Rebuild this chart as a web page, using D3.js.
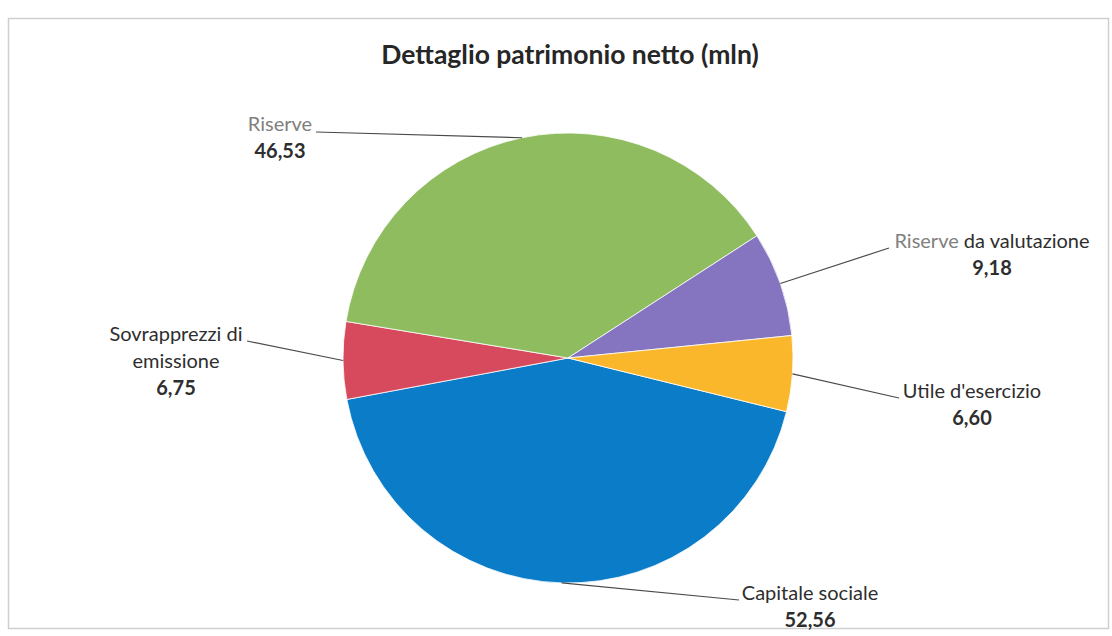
<!DOCTYPE html>
<html>
<head>
    <meta charset="utf-8">
    <title>Dettaglio patrimonio netto</title>
    <script src="https://d3js.org/d3.v7.min.js"></script>
    <style>
        html, body {
            margin: 0;
            background: #fff;
        }
        text {
            font-family: Lato, "Open Sans", sans-serif;
        }
    </style>
</head>
<body>
    <svg id="svg"></svg>
    <script>
        // data, in clockwise order as drawn
        const categories = ["Capitale sociale", "Sovrapprezzi di emissione", "Riserve", "Riserve da valutazione", "Utile d'esercizio"];
        const values = [52.56, 6.75, 46.53, 9.18, 6.60];
        const colors = ["#0b7cc7", "#d74a5e", "#8fbc5f", "#8574c0", "#fbb72b"];

        // how each label is broken into lines; grey words come first
        const labelLines = [
            [["", "Capitale sociale"]],
            [["", "Sovrapprezzi di"], ["", "emissione"]],
            [["Riserve", ""]],
            [["Riserve", " da valutazione"]],
            [["", "Utile d'esercizio"]]
        ];
        // label layout: text centre x, first baseline y, leader end point
        const labelLayout = [
            {x: 810, y: 600, lx: 739, ly: 600},
            {x: 176, y: 341, lx: 247, ly: 341},
            {x: 280, y: 131, lx: 316, ly: 132},
            {x: 992, y: 248, lx: 889, ly: 248},
            {x: 972, y: 398, lx: 899, ly: 398}
        ];

        const width = 1112, height = 636;
        const cx = 568, cy = 358, radius = 225;
        const lineH = 27;
        const fontSize = 20;

        const svg = d3.select("#svg")
        .attr("width", width)
        .attr("height", height);

        // chart frame
        svg.append("rect")
        .attr("x", 8.5)
        .attr("y", 18.5)
        .attr("width", 1100)
        .attr("height", 610)
        .attr("fill", "none")
        .attr("stroke", "#cfcfcf")
        .attr("stroke-width", 1.5);

        svg.append("text")
        .attr("x", 570)
        .attr("y", 64)
        .attr("text-anchor", "middle")
        .attr("font-size", 26.5)
        .attr("font-weight", 700)
        .attr("fill", "#262626")
        .text("Dettaglio patrimonio netto (mln)");

        const data = categories.map((c, i) => ({name: c, value: values[i], i}));

        const start = 103.8 * Math.PI / 180;
        const pie = d3.pie().sort(null).value(d => d.value)
        .startAngle(start).endAngle(start + 2 * Math.PI);
        const arc = d3.arc().innerRadius(0).outerRadius(radius);

        const pieGroup = svg.append("g")
        .attr("transform", `translate(${cx}, ${cy})`);

        const arcs = pie(data);

        pieGroup.selectAll("path")
        .data(arcs)
        .enter()
        .append("path")
        .attr("d", arc)
        .attr("fill", d => colors[d.data.i])
        .attr("stroke", "#fff")
        .attr("stroke-width", 0.8);

        // leader lines from the slice edge at mid-angle
        svg.selectAll("line.leader")
        .data(arcs)
        .enter()
        .append("line")
        .attr("class", "leader")
        .attr("x1", d => cx + radius * Math.sin((d.startAngle + d.endAngle) / 2))
        .attr("y1", d => cy - radius * Math.cos((d.startAngle + d.endAngle) / 2))
        .attr("x2", d => labelLayout[d.data.i].lx)
        .attr("y2", d => labelLayout[d.data.i].ly)
        .attr("stroke", "#4a4a4a")
        .attr("stroke-width", 1.2);

        const fmt = v => v.toFixed(2).replace(".", ",");

        const labels = svg.selectAll("g.label")
        .data(data)
        .enter()
        .append("g")
        .attr("class", "label");

        labels.each(function(d) {
            const g = d3.select(this);
            const pos = labelLayout[d.i];
            const lines = labelLines[d.i];
            lines.forEach((ln, k) => {
                const t = g.append("text")
                .attr("x", pos.x)
                .attr("y", pos.y + k * lineH)
                .attr("text-anchor", "middle")
                .attr("font-size", fontSize);
                if (ln[0]) t.append("tspan").attr("fill", "#808080").text(ln[0]);
                if (ln[1]) t.append("tspan").attr("fill", "#2e2e2e").text(ln[1]);
            });
            g.append("text")
            .attr("x", pos.x)
            .attr("y", pos.y + lines.length * lineH)
            .attr("text-anchor", "middle")
            .attr("font-size", fontSize)
            .attr("font-weight", 700)
            .attr("fill", "#2e2e2e")
            .text(fmt(d.value));
        });
    </script>
</body>
</html>
